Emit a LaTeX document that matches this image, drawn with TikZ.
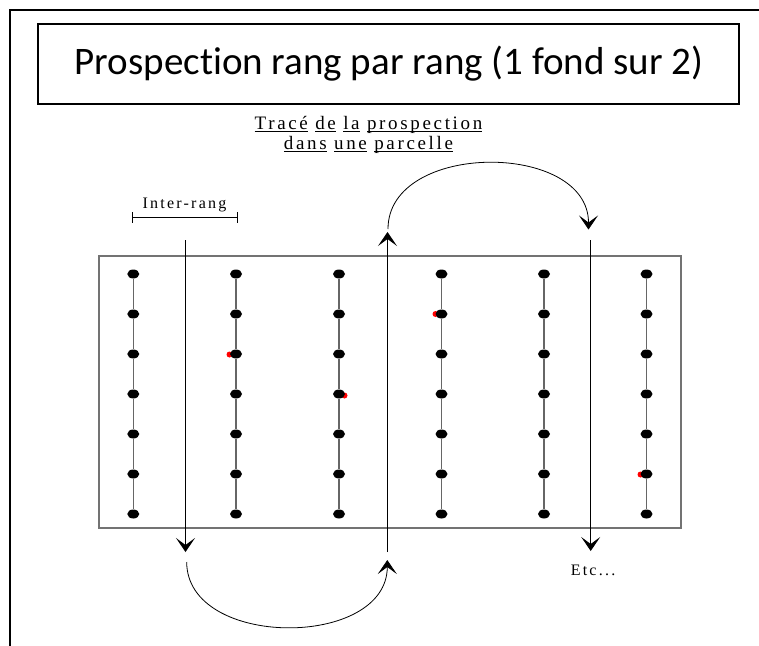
\documentclass[tikz,border=0pt]{standalone}
\usepackage{fontspec}
\setmainfont{Liberation Serif}
\newfontfamily\titlefont[Ligatures=NoCommon]{Carlito}
\newfontfamily\spacedfont[LetterSpace=14]{Liberation Serif}
\usetikzlibrary{arrows.meta,shapes.geometric}
\newcommand\wordul[1]{\setbox0\hbox{#1}\rlap{\rule[-2.6pt]{\wd0}{0.8pt}}\box0\relax}
\tikzset{
  frameline/.style={line width=2.2pt, line cap=rect},
  titlebox/.style={draw, line width=2pt},
  fieldbox/.style={draw=black!55, line width=1.3pt},
  dotnode/.style={ellipse, fill=black, minimum width=12pt, minimum height=9pt, inner sep=0pt},
  redmark/.style={circle, fill=red, minimum size=6pt, inner sep=0pt},
  rowline/.style={draw=black!60, line width=1.2pt},
  tip/.style={-{Stealth[length=14pt,width=19pt,inset=7pt]}},
  walk/.style={line width=1pt, tip},
  loopcurve/.style={line width=0.8pt, tip},
  spaced/.style={font=\spacedfont\fontsize{16}{19}\selectfont, inner sep=0pt},
  bigspaced/.style={font=\spacedfont\fontsize{19}{22}\selectfont, inner sep=0pt},
  bracket/.style={line width=1pt}
}
\begin{document}
\begin{tikzpicture}[x=1pt,y=-1pt]
\useasboundingbox (0,0) rectangle (759,645);
% outer frame (top and left)
\coordinate (fTR) at (759,9.7);
\coordinate (fTL) at (10,9.7);
\coordinate (fBL) at (10,645);
\draw[frameline] (fTR) -- (fTL) -- (fBL);
% title
\node[titlebox, minimum width=701.6pt, minimum height=79.7pt, inner sep=0pt] (titlebox) at (388.5,64.2) {};
\node[anchor=base, inner sep=0pt, font=\titlefont\fontsize{39}{46}\selectfont] (title) at (389,74) {Prospection rang par rang (1 fond sur 2)};
% subtitle
\node[bigspaced, anchor=base] (sub1) at (368.5,129.5) {\wordul{Tracé} \wordul{de} \wordul{la} \wordul{prospection}};
\node[bigspaced, anchor=base] (sub2) at (368.5,149.5) {\wordul{dans} \wordul{une} \wordul{parcelle}};
% inter-rang
\node[spaced, anchor=base] (inter) at (184.5,208.7) {Inter-rang};
\coordinate (bL) at (132.7,217.3);
\coordinate (bR) at (237.3,217.3);
\draw[bracket] (bL) -- (bR);
\draw[bracket] ([yshift=-5.5pt]bL) -- ([yshift=5.5pt]bL);
\draw[bracket] ([yshift=-5.5pt]bR) -- ([yshift=5.5pt]bR);
% field
\node[fieldbox, minimum width=582pt, minimum height=272pt, inner sep=0pt] (field) at (390,392) {};
% red marks
\node[redmark] (r1) at (229.5,354.5) {};
\node[redmark] (r2) at (344.5,395.5) {};
\node[redmark] (r3) at (435.5,314) {};
\node[redmark] (r4) at (640.5,474.5) {};
% dots
\foreach \i/\x in {1/133.3,2/236,3/339,4/441.5,5/544,6/646.5}{
  \foreach \j in {1,...,7}{
    \node[dotnode] (d\i-\j) at (\x,{274+40*(\j-1)}) {};
  }
  \foreach \j [evaluate=\j as \k using int(\j+1)] in {1,...,6}{
    \draw[rowline] (d\i-\j) -- (d\i-\k);
  }
}
% walking path
\coordinate (a1s) at (185.5,240);
\coordinate (a1e) at (185.5,552);
\coordinate (a2s) at (387.5,552);
\coordinate (a2e) at (387.5,232);
\coordinate (a3s) at (590.7,240);
\coordinate (a3e) at (590.7,551);
\draw[walk] (a1s) -- (a1e);
\draw[walk] (a2s) -- (a2e);
\draw[walk] (a3s) -- (a3e);
\coordinate (t1) at (388,229);
\coordinate (t2) at (588.5,229.5);
\draw[loopcurve] (t1) .. controls (388,141) and (588.5,141) .. (t2);
\coordinate (u1) at (186.7,562);
\coordinate (u2) at (387.3,560);
\draw[loopcurve] (u1) .. controls (186.7,649) and (387.3,649) .. (u2);
% etc
\node[spaced, anchor=base] (etc) at (593,575) {Etc...};
\end{tikzpicture}
\end{document}
